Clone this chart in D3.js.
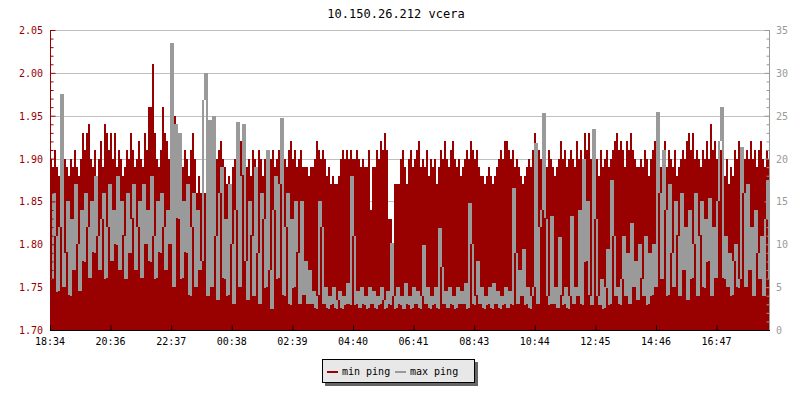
<!DOCTYPE html>
<html>
<head>
<meta charset="utf-8">
<script src="https://cdn.jsdelivr.net/npm/d3@7"></script>
<style>
  html, body { margin: 0; padding: 0; background: #fff; }
  svg { display: block; }
  text { font-family: "DejaVu Sans Mono", "Liberation Mono", monospace; }
</style>
</head>
<body>
<svg id="chart" width="800" height="400"></svg>
<script>
// ---- data ----
const title = "10.150.26.212 vcera";
const seriesNames = ["min ping", "max ping"];
const tickLabels = ["18:34","20:36","22:37","00:38","02:39","04:40","06:41","08:43","10:44","12:45","14:46","16:47"];
const tickMinutes = [0, 121.2, 242.4, 363.6, 484.8, 606, 727.2, 848.4, 969.6, 1090.8, 1212, 1333.2];
const spanMinutes = 1440;
const sampleStep = 4; // minutes per sample
const leftTicks = [1.70, 1.75, 1.80, 1.85, 1.90, 1.95, 2.00, 2.05];
const rightTicks = [0, 5, 10, 15, 20, 25, 30, 35];

// min ping (ms, left axis), one value per 4 minutes
const minPing = [
1.90,1.89,1.91,1.89,1.88,1.91,1.92,1.90,1.89,1.88,
1.90,1.89,1.91,1.89,1.88,1.90,1.93,1.91,1.93,1.94,
1.90,1.89,1.91,1.88,1.90,1.92,1.89,1.94,1.93,1.91,
1.93,1.90,1.93,1.89,1.91,1.90,1.88,1.89,1.91,1.90,
1.93,1.91,1.89,1.90,1.92,1.90,1.89,1.93,1.91,1.96,
1.96,2.01,1.93,1.90,1.89,1.91,1.96,1.93,1.92,1.90,
1.95,1.94,1.95,1.91,1.90,1.92,1.89,1.91,1.90,1.88,
1.91,1.93,1.90,1.86,1.88,1.86,1.87,1.86,1.89,1.86,
1.88,1.90,1.92,1.90,1.91,1.92,1.90,1.89,1.87,1.88,
1.86,1.89,1.90,1.91,1.89,1.92,1.90,1.91,1.89,1.90,
1.88,1.91,1.90,1.89,1.91,1.90,1.88,1.90,1.91,1.89,
1.90,1.91,1.89,1.90,1.91,1.89,1.91,1.90,1.89,1.91,
1.92,1.90,1.91,1.89,1.90,1.91,1.89,1.89,1.89,1.88,
1.89,1.89,1.90,1.92,1.91,1.90,1.91,1.90,1.88,1.89,
1.87,1.88,1.87,1.87,1.88,1.90,1.91,1.90,1.91,1.90,
1.91,1.90,1.90,1.91,1.90,1.89,1.90,1.89,1.89,1.91,
1.84,1.89,1.89,1.91,1.90,1.92,1.91,1.93,1.91,1.83,
1.83,1.79,1.87,1.87,1.87,1.90,1.91,1.89,1.87,1.90,
1.91,1.89,1.90,1.91,1.92,1.89,1.90,1.89,1.91,1.88,
1.90,1.89,1.90,1.87,1.89,1.91,1.90,1.92,1.90,1.89,
1.91,1.92,1.90,1.89,1.90,1.88,1.89,1.90,1.91,1.90,
1.92,1.91,1.90,1.91,1.89,1.88,1.88,1.87,1.88,1.89,
1.88,1.87,1.88,1.89,1.90,1.91,1.90,1.92,1.92,1.91,
1.90,1.91,1.89,1.90,1.89,1.88,1.87,1.88,1.89,1.90,
1.89,1.91,1.93,1.90,1.91,1.90,1.91,1.90,1.89,1.91,
1.90,1.89,1.88,1.89,1.90,1.92,1.90,1.91,1.89,1.90,
1.91,1.90,1.89,1.92,1.90,1.91,1.90,1.93,1.91,1.93,
1.90,1.91,1.89,1.90,1.88,1.91,1.89,1.90,1.91,1.89,
1.90,1.91,1.92,1.93,1.91,1.92,1.91,1.89,1.92,1.91,
1.93,1.91,1.90,1.89,1.89,1.90,1.89,1.91,1.90,1.88,
1.90,1.91,1.92,1.90,1.91,1.89,1.90,1.92,1.89,1.91,
1.90,1.89,1.91,1.88,1.89,1.90,1.91,1.90,1.92,1.93,
1.91,1.93,1.90,1.91,1.90,1.89,1.91,1.90,1.92,1.90,
1.94,1.91,1.92,1.90,1.89,1.91,1.90,1.88,1.90,1.87,
1.89,1.88,1.91,1.90,1.92,1.91,1.89,1.90,1.91,1.90,
1.92,1.90,1.91,1.89,1.91,1.92,1.90,1.89,1.91,1.90
];

// max ping (ms, right axis), one value per 4 minutes
const maxPing = [
6,16,11,4.5,12,27.5,5,9,15,4,
13,7,17,10,4.5,14,8,16,12,6,
15,9,18,11,7,13,16,6,12,17,
8,14,10,18,7,15,11,6,16,9,
13,17,7,12,15,6,17,10,14,8,
18,11,6,15,9,16,12,7,14,10,
33.5,5,24,13,23,6,15,9,17,4,
12,16,5,14,7,8,26.8,30,4,24.5,
5,25,11,3.5,16,19,6,13,4,17,
10,3,14,24.3,5,18,24,8,3.5,15,
11,4,19,9,3,16,13,5,21,7,
2.5,14,18,6,17,24.7,4,12,16,3,
13,5,15,9,3,15,4,8,3,7,
3,4.5,2.5,4,15,12,3,5,2.5,4,
3,5,2.5,3.5,4.5,2.5,4,3,5.5,3,
18,11,3,4.5,2.5,5,3,4,2.5,5,
3,4.5,2.5,4,3,5,3.5,2.5,4.5,3,
10.2,4,2.5,5,3,4,2.5,5.5,3,4,
2.5,5,3,4.5,2.5,4,9.9,3,5,2.5,
4,3,5,2.5,11.9,7.3,3,4.5,2.5,5,
3,4,2.5,5,3,4.5,3,5.5,2.5,14.8,
10,3,4,8,3,5,2.5,4,3,5,
2.5,5.5,3,4.5,2.5,4,3,5,2.5,4.5,
3,16.6,9,3,7,4,9.5,3,5,2.5,
4,5,21.8,3,12,14,25.3,13,4,3,
13.3,3,5,2.5,10.8,4,3,5,2.5,4,
13.3,3,5,4,14,3,20,8,15,4,
3,23.5,13,4,3,6,2.5,5,9.5,3,
17.5,11,4,5,3,6,11,4,9,3,
12.5,5,8,3.5,10,6,4,11,3,9,
4,10,5,25.4,16,6,21,14,4,17,
9,5,15,11,4,16,7,12,3.5,14,
6,10,16,4,11,15,5,13,8,15.4,
4,12,6,15,22,26,6,11,5,9,
4,8,10,5,6,21.4,16,5,17,7,
12,4,14,9,6,11,4,13,17.5,6
];

const RED = "#990000";
const GRAY = "#9a9a9a";

// ---- layout ----
const svg = d3.select("#chart");
const L = 50, R = 770, T = 30, B = 330;

const x = d3.scaleLinear().domain([0, spanMinutes]).range([L, R]);
const yL = d3.scaleLinear().domain([1.70, 2.05]).range([B, T]);
const yR = d3.scaleLinear().domain([0, 35]).range([B, T]);

// grid
svg.append("g").selectAll("line").data(leftTicks.slice(1)).join("line")
  .attr("x1", L).attr("x2", R)
  .attr("y1", d => Math.round(yL(d)) + 0.5).attr("y2", d => Math.round(yL(d)) + 0.5)
  .attr("stroke", "#c0c0c0").attr("stroke-width", 1);

// min ping: filled step area
const redPts = minPing.map((v, i) => ({t: i * sampleStep, v}));
redPts.push({t: spanMinutes, v: minPing[minPing.length - 1]});
svg.append("path")
  .datum(redPts)
  .attr("d", d3.area().curve(d3.curveStepAfter)
    .x(d => x(d.t)).y0(B).y1(d => yL(d.v)))
  .attr("fill", RED)
  .attr("shape-rendering", "crispEdges");

// max ping: line drawn as the vertical strokes joining consecutive samples
const grayPts = maxPing.map((v, i) => ({
  t: i * sampleStep,
  prev: i > 0 ? maxPing[i - 1] : v,
  v
}));
svg.append("g").selectAll("rect").data(grayPts).join("rect")
  .attr("x", d => Math.round(x(d.t)))
  .attr("width", d => Math.round(x(d.t + sampleStep)) - Math.round(x(d.t)))
  .attr("y", d => Math.round(yR(Math.max(d.prev, d.v))))
  .attr("height", d => Math.max(1, Math.round(Math.abs(yR(d.prev) - yR(d.v)))))
  .attr("fill", GRAY)
  .attr("shape-rendering", "crispEdges");

// left axis
const leftAxis = d3.axisRight(yL)
  .tickValues(d3.range(170, 206).map(d => d / 100))
  .tickSize(3).tickFormat("");
const gL = svg.append("g").attr("transform", `translate(${L + 0.5},0)`).call(leftAxis);
gL.selectAll("line").attr("stroke", RED);
gL.selectAll(".tick line").filter(d => leftTicks.some(t => Math.abs(t - d) < 1e-6)).attr("x2", 5);
gL.select(".domain").attr("stroke", RED).attr("d", `M0,${T}V${B}`);
svg.append("g").selectAll("text").data(leftTicks).join("text")
  .attr("x", 43).attr("y", d => yL(d) + 4)
  .attr("text-anchor", "end").attr("font-size", 10).attr("fill", RED)
  .text(d => d.toFixed(2));

// right axis
const rightAxis = d3.axisLeft(yR).tickValues(d3.range(0, 36)).tickSize(3).tickFormat("");
const gR = svg.append("g").attr("transform", `translate(${R - 0.5},0)`).call(rightAxis);
gR.selectAll("line").attr("stroke", GRAY);
gR.selectAll(".tick line").filter(d => d % 5 === 0).attr("x2", -5);
gR.select(".domain").attr("stroke", GRAY).attr("d", `M0,${T}V${B}`);
svg.append("g").selectAll("text").data(rightTicks).join("text")
  .attr("x", 776).attr("y", d => yR(d) + 4)
  .attr("text-anchor", "start").attr("font-size", 10).attr("fill", GRAY)
  .text(d => d);

// bottom axis
const bottomAxis = d3.axisTop(x).tickValues(tickMinutes).tickSize(5).tickFormat("");
const gB = svg.append("g").attr("transform", `translate(0,${B + 0.5})`).call(bottomAxis);
gB.selectAll("line").attr("stroke", "#000");
gB.select(".domain").attr("stroke", "#000").attr("d", `M${L},0H${R}`);
svg.append("g").selectAll("text").data(tickMinutes).join("text")
  .attr("x", d => x(d)).attr("y", 345)
  .attr("text-anchor", "middle").attr("font-size", 10).attr("fill", "#000")
  .text((d, i) => tickLabels[i]);

// title
svg.append("text").attr("x", 396).attr("y", 18)
  .attr("text-anchor", "middle").attr("font-size", 12).attr("fill", "#000")
  .text(title);

// legend
const lg = svg.append("g");
lg.append("rect").attr("x", 325).attr("y", 362).attr("width", 153).attr("height", 24).attr("fill", "#666");
lg.append("rect").attr("x", 322.5).attr("y", 359.5).attr("width", 152).attr("height", 23)
  .attr("fill", "#e8e8e8").attr("stroke", "#000").attr("stroke-width", 1);
const colors = [RED, GRAY];
const lx = [327, 395];
seriesNames.forEach((name, i) => {
  lg.append("line").attr("x1", lx[i]).attr("x2", lx[i] + 11).attr("y1", 372).attr("y2", 372)
    .attr("stroke", colors[i]).attr("stroke-width", 2);
  lg.append("text").attr("x", lx[i] + 15).attr("y", 375).attr("font-size", 10).attr("fill", "#000").text(name);
});
</script>
</body>
</html>
